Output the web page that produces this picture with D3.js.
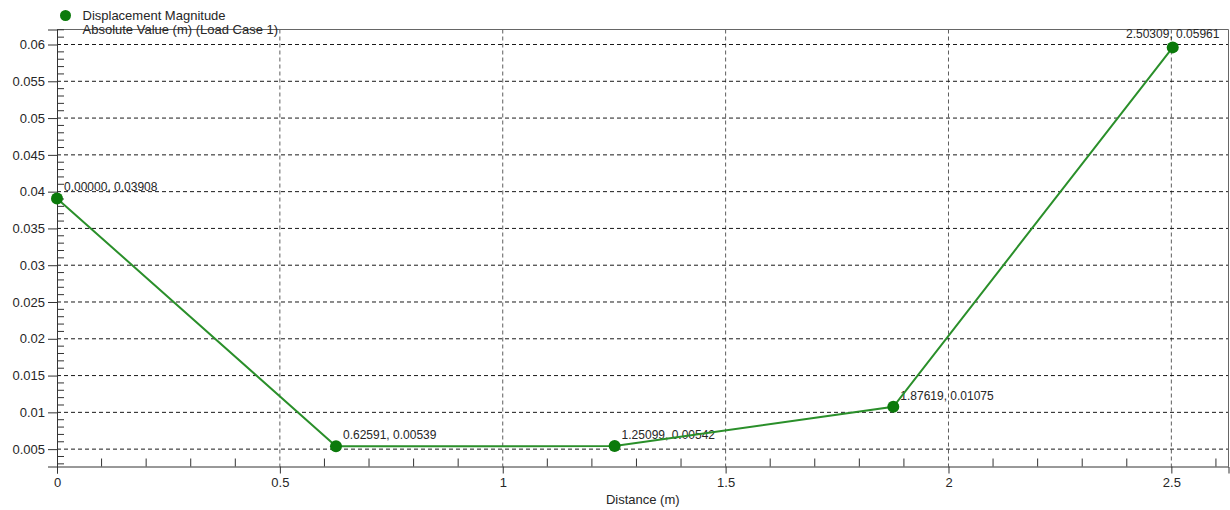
<!DOCTYPE html>
<html>
<head>
<meta charset="utf-8">
<script src="https://cdn.jsdelivr.net/npm/d3@7"></script>
<style>
    body { margin: 0; background: #fff; }
    svg { display: block; font-family: "Liberation Sans", Arial, sans-serif; }
</style>
</head>
<body>
<svg id="chart"></svg>
<script>
// values
const distances = [0.00000, 0.62591, 1.25099, 1.87619, 2.50309];
const displacements = [0.03908, 0.00539, 0.00542, 0.01075, 0.05961];
const xMajorTicks = [0, 0.5, 1, 1.5, 2, 2.5];
const yMajorTicks = [0.005, 0.01, 0.015, 0.02, 0.025, 0.03, 0.035, 0.04, 0.045, 0.05, 0.055, 0.06];
const legendLines = ["Displacement Magnitude", "Absolute Value (m) (Load Case 1)"];
const xTitle = "Distance (m)";

class DisplacementChart {
    constructor(_config) {
        this.config = {
            parentElement: _config.parentElement,
            containerWidth: _config.containerWidth || 1230,
            containerHeight: _config.containerHeight || 510,
        }
        this.config.margin = _config.margin || { top: 29.5, bottom: 43.5, right: 1.5, left: 57 }
        this.initVis();
    }

    initVis() {
        let vis = this;

        vis.width = vis.config.containerWidth - vis.config.margin.left - vis.config.margin.right;
        vis.height = vis.config.containerHeight - vis.config.margin.top - vis.config.margin.bottom;

        vis.svg = d3.select(vis.config.parentElement)
            .attr("width", vis.config.containerWidth)
            .attr("height", vis.config.containerHeight);
        vis.chart = vis.svg.append("g")
            .attr("transform", `translate(${vis.config.margin.left},${vis.config.margin.top})`);

        vis.xScale = d3.scaleLinear().domain([0, 2.6282]).range([0, vis.width]);
        vis.yScale = d3.scaleLinear().domain([0.00264, 0.06204]).range([vis.height, 0]);

        vis.data = distances.map((d, i) => ({ x: d, y: displacements[i] }));
    }

    render() {
        let vis = this;
        const fmt = d3.format(".5f");
        const textColor = "#262626";

        // grid lines
        vis.chart.append("g").selectAll("line")
            .data(xMajorTicks.filter(d => d > 0))
            .join("line")
            .attr("x1", d => vis.xScale(d)).attr("x2", d => vis.xScale(d))
            .attr("y1", 0).attr("y2", vis.height)
            .attr("stroke", "#5e5e5e")
            .attr("stroke-dasharray", "4,3");

        vis.chart.append("g").selectAll("line")
            .data(yMajorTicks)
            .join("line")
            .attr("x1", 0).attr("x2", vis.width)
            .attr("y1", d => vis.yScale(d)).attr("y2", d => vis.yScale(d))
            .attr("stroke", "#1a1a1a")
            .attr("stroke-dasharray", "4,3");

        // frame
        vis.chart.append("path")
            .attr("d", `M0,0H${vis.width}V${vis.height}`)
            .attr("fill", "none")
            .attr("stroke", "#666");

        // x axis with major ticks outside, minor ticks inside
        let xAxis = d3.axisBottom(vis.xScale)
            .tickValues(xMajorTicks)
            .tickFormat(d3.format("~g"))
            .tickSize(7)
            .tickPadding(4);
        let axisX = vis.chart.append("g")
            .attr("transform", `translate(0,${vis.height})`)
            .call(xAxis);
        axisX.select(".domain").attr("stroke", "#333");
        axisX.selectAll(".tick line").attr("stroke", "#333");
        axisX.selectAll("text").attr("font-size", 13).attr("fill", textColor).attr("font-family", null);

        let xMinor = d3.range(1, 27).map(i => i / 10).filter(d => Math.round(d * 10) % 5 !== 0);
        vis.chart.append("g").selectAll("line")
            .data(xMinor)
            .join("line")
            .attr("x1", d => vis.xScale(d)).attr("x2", d => vis.xScale(d))
            .attr("y1", vis.height).attr("y2", vis.height - 8)
            .attr("stroke", "#333");

        let yAxis = d3.axisLeft(vis.yScale)
            .tickValues(yMajorTicks)
            .tickFormat(d3.format("~g"))
            .tickSize(9)
            .tickPadding(3);
        let axisY = vis.chart.append("g").call(yAxis);
        axisY.select(".domain").attr("stroke", "#333");
        axisY.selectAll(".tick line").attr("stroke", "#333");
        axisY.selectAll("text").attr("font-size", 13).attr("fill", textColor).attr("font-family", null);

        let yMinor = d3.range(3, 63).map(i => i / 1000).filter(d => Math.round(d * 1000) % 5 !== 0);
        vis.chart.append("g").selectAll("line")
            .data(yMinor)
            .join("line")
            .attr("x1", 0).attr("x2", 7)
            .attr("y1", d => vis.yScale(d)).attr("y2", d => vis.yScale(d))
            .attr("stroke", "#333");

        // point labels (under the line)
        let labels = vis.chart.append("g").selectAll("text")
            .data(vis.data)
            .join("text")
            .attr("x", d => vis.xScale(d.x) + 7)
            .attr("y", d => vis.yScale(d.y) - 7)
            .attr("font-size", 12)
            .attr("fill", textColor)
            .text(d => `${fmt(d.x)}, ${fmt(d.y)}`);
        labels.each(function (d) {
            let w = this.getComputedTextLength();
            if (vis.xScale(d.x) + 7 + w > vis.width) {
                d3.select(this).attr("text-anchor", "middle")
                    .attr("x", vis.xScale(d.x))
                    .attr("y", vis.yScale(d.y) - 9);
            }
        });

        vis.chart.append("path")
            .datum(vis.data)
            .attr("fill", "none")
            .attr("stroke", "#2a8f2a")
            .attr("stroke-width", 2)
            .attr("d", d3.line().x(d => vis.xScale(d.x)).y(d => vis.yScale(d.y)));

        vis.chart.append("g").selectAll("circle")
            .data(vis.data)
            .join("circle")
            .attr("cx", d => vis.xScale(d.x))
            .attr("cy", d => vis.yScale(d.y))
            .attr("r", 6)
            .attr("fill", "#0b7a0b");

        // axis title
        vis.chart.append("text")
            .attr("x", vis.width / 2)
            .attr("y", vis.height + 37.5)
            .attr("text-anchor", "middle")
            .attr("font-size", 13)
            .attr("fill", textColor)
            .text(xTitle);

        // legend
        vis.svg.append("circle")
            .attr("cx", 65.5).attr("cy", 15.5).attr("r", 5.5)
            .attr("fill", "#0b7a0b");
        vis.svg.append("g").selectAll("text")
            .data(legendLines)
            .join("text")
            .attr("x", 82.5)
            .attr("y", (d, i) => 19.5 + i * 14)
            .attr("font-size", 13)
            .attr("fill", textColor)
            .text(d => d);
    }
}

let chart = new DisplacementChart({ parentElement: "#chart" });
chart.render();
</script>
</body>
</html>
